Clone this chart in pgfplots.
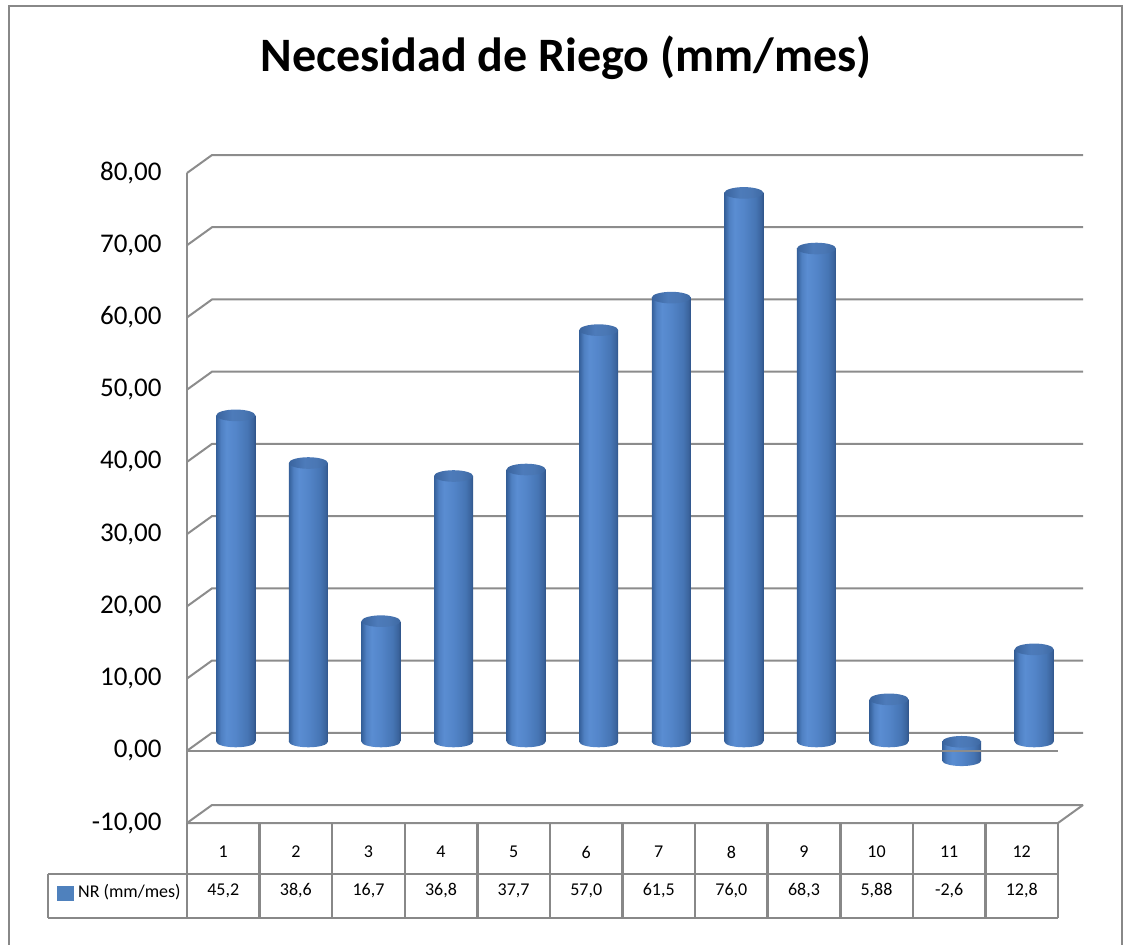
\documentclass[border=0pt]{standalone}
\usepackage{fontspec}
\setmainfont{Carlito}
\usepackage{pgfplots}
\pgfplotsset{compat=1.18}
\usepackage{pgfplotstable}

\definecolor{gridgray}{HTML}{8C8C8C}
\definecolor{tablegray}{HTML}{888888}
\definecolor{legblue}{HTML}{4F81BD}
\definecolor{cbA}{HTML}{2F5489}
\definecolor{cbB}{HTML}{35609A}
\definecolor{cbC}{HTML}{4F80C2}
\definecolor{cbD}{HTML}{5A8DD2}
\definecolor{cbE}{HTML}{5385C9}
\definecolor{cbF}{HTML}{4675B4}
\definecolor{cbG}{HTML}{3B649D}
\definecolor{ccA}{HTML}{3A649E}
\definecolor{ccB}{HTML}{4D7BBA}
\definecolor{ccC}{HTML}{4A77B4}
\definecolor{ccD}{HTML}{3D68A2}

% cylinder body: dark rims, light band left of centre
\pgfdeclarehorizontalshading{cylbody}{100bp}{color(0bp)=(cbA); color(25bp)=(cbB); color(31bp)=(cbC); color(38bp)=(cbD); color(50bp)=(cbE); color(65bp)=(cbF); color(72bp)=(cbG); color(75bp)=(cbA); color(100bp)=(cbA)}
% cylinder top face
\pgfdeclarehorizontalshading{cylcap}{100bp}{color(0bp)=(ccA); color(25bp)=(ccA); color(45bp)=(ccB); color(60bp)=(ccC); color(75bp)=(ccD); color(100bp)=(ccD)}

\pgfdeclareplotmark{cyltop}{%
  \pgfpathellipse{\pgfpointorigin}{\pgfqpoint{9.75pt}{0pt}}{\pgfqpoint{0pt}{2.9pt}}%
  \pgfshadepath{cylcap}{0}\pgfusepath{}}
\pgfdeclareplotmark{cylbot}{%
  \pgfpathellipse{\pgfpointorigin}{\pgfqpoint{9.75pt}{0pt}}{\pgfqpoint{0pt}{2.75pt}}%
  \pgfshadepath{cylbody}{0}\pgfusepath{}}

\pgfplotstableread{
x  y     lbl
1  45.2  45,2
2  38.6  38,6
3  16.7  16,7
4  36.8  36,8
5  37.7  37,7
6  57.0  57,0
7  61.5  61,5
8  76.0  76,0
9  68.3  68,3
10 5.88  5,88
11 -2.6  -2,6
12 12.8  12,8
}\nrdata

\pgfplotsset{
  frame3d/.style={
    scale only axis, width=435.5pt, height=325pt,
    xmin=0.5, xmax=12.5, ymin=-10, ymax=80,
    clip=false, anchor=south west,
  },
}
\tikzset{
  gridline/.style={draw=gridgray, line width=1pt},
  tableline/.style={draw=tablegray, line width=1.25pt},
}

\begin{document}
\begin{tikzpicture}
\path[use as bounding box] (-93.5pt,-60.5pt) rectangle (469pt,411.5pt);

% back wall, side wall and floor, tick labels, data table
\begin{axis}[frame3d, at={(0pt,0pt)},
  axis line style={draw=none}, tick style={draw=none},
  ytick={-10,0,...,80},
  yticklabel style={font=\fontsize{13.5}{16}\selectfont, anchor=east, inner sep=0pt, xshift=-12.5pt},
  xtick={1,...,12},
  xticklabels={1,2,3,4,5,6,7,8,9,10,11,12},
  xticklabel style={font=\fontsize{9}{11}\selectfont, anchor=center, inner sep=0pt, yshift=-14.5pt},
  /pgf/number format/.cd, fixed, fixed zerofill, precision=2, use comma, assume math mode=true,
  /pgfplots/.cd,
  legend image code/.code={\fill[legblue] (0pt,-4pt) rectangle (8pt,3pt);},
  legend style={at={(axis description cs:-0.1493,-0.1062)}, anchor=west, draw=none, fill=none,
    inner sep=0pt, font=\fontsize{9}{11}\selectfont},
  legend cell align=left,
]
\pgfplotsinvokeforeach{-10,0,10,20,30,40,50,60,70,80}{
  \draw[gridline] (axis cs:0.5,#1) -- ++(12.5pt,9pt) -- ++(435.5pt,0pt);
}
\draw[gridline] (axis cs:0.5,-10) -- (axis cs:0.5,80);
\draw[gridline] (axis cs:0.5,-10) -- (axis cs:12.5,-10) -- ++(12.5pt,9pt);

% data table
\pgfplotsinvokeforeach{0.5,1.5,...,12.5}{
  \draw[tableline] (axis cs:#1,-10) -- ++(0pt,-47.5pt);
}
\draw[tableline] ([shift={(-69.5pt,-25.5pt)}]axis cs:0.5,-10) -- ([yshift=-25.5pt]axis cs:12.5,-10);
\draw[tableline] ([shift={(-69.5pt,-47.5pt)}]axis cs:0.5,-10) -- ([yshift=-47.5pt]axis cs:12.5,-10);
\draw[tableline] ([shift={(-69.5pt,-25.5pt)}]axis cs:0.5,-10) -- ++(0pt,-22pt);

\addplot[draw=none, nodes near coords, point meta=explicit symbolic, forget plot,
  every node near coord/.append style={anchor=center, inner sep=0pt, font=\fontsize{9}{11}\selectfont, text=black}]
  table[x=x, y expr=-19.4, meta=lbl] {\nrdata};

\addlegendimage{legblue}
\addlegendentry{NR (mm/mes)}
\end{axis}

% cylinders, set half a depth step behind the front plane
\begin{axis}[frame3d, at={(6.25pt,4.5pt)}, hide axis]
\addplot[only marks, mark=cylbot] table[x=x, y expr={min(\thisrow{y},0)}] {\nrdata};
% one bar per month, so that each body gets its own shading
\pgfplotsinvokeforeach{1,...,12}{
  \addplot[ybar, bar width=19.5pt, draw=none, shade, shading=cylbody,
    restrict x to domain=#1:#1] table[x=x, y=y] {\nrdata};
}
\addplot[only marks, mark=cyltop] table[x=x, y expr={max(\thisrow{y},0)}] {\nrdata};
\draw[gridline] ([shift={(-6.25pt,-4.5pt)}]axis cs:0.5,0) -- ++(435.5pt,0pt);
\end{axis}

% title and chart border, in pixel units from the top-left corner
\begin{scope}[x=0.5pt, y=-0.5pt, shift={(-93.5pt,411.5pt)}]
\draw[draw=tablegray, line width=1.3pt] (9,6) rectangle (1122,975);
\node[font=\bfseries\fontsize{24}{29}\selectfont] at (566,58) {Necesidad de Riego (mm/mes)};
\end{scope}
\end{tikzpicture}
\end{document}
